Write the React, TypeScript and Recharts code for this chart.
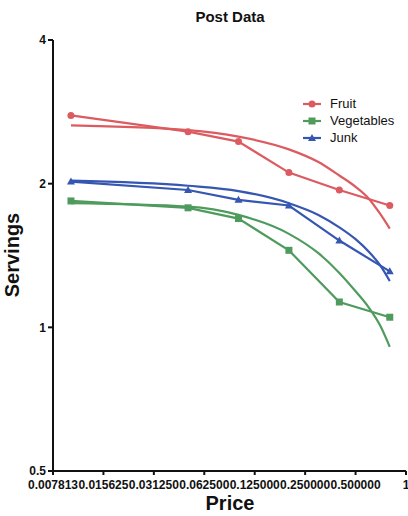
import React from 'react';
import { LineChart, Line, XAxis, YAxis } from 'recharts';

// measured points
const priceLevels = [0.01, 0.05, 0.1, 0.2, 0.4, 0.8];
const fruitServings = [2.78, 2.57, 2.45, 2.11, 1.94, 1.8];
const vegetableServings = [1.84, 1.78, 1.69, 1.45, 1.13, 1.05];
const junkServings = [2.02, 1.94, 1.85, 1.8, 1.52, 1.31];

// fitted curves
const fitPrices = [0.01, 0.05, 0.1, 0.2, 0.3, 0.4, 0.5, 0.6, 0.7, 0.8];
const fruitFit = [2.65, 2.59, 2.51, 2.36, 2.22, 2.08, 1.97, 1.86, 1.73, 1.61];
const vegetableFit = [1.82, 1.79, 1.72, 1.57, 1.43, 1.3, 1.19, 1.1, 1.01, 0.91];
const junkFit = [2.03, 1.98, 1.93, 1.82, 1.72, 1.62, 1.53, 1.44, 1.35, 1.25];

const xTicks = [0.0078125, 0.015625, 0.03125, 0.0625, 0.125, 0.25, 0.5, 1];
const yTicks = [0.5, 1, 2, 4];

const seriesNames = ['Fruit', 'Vegetables', 'Junk'];
const colors = ['#dc5b60', '#4f9b5d', '#3556b2'];

const FONT = '"Liberation Sans", Arial, sans-serif';

const toRows = (xs: number[], ys: number[]) =>
  xs.map((price, i) => ({ price, servings: ys[i] }));

const marker = (kind: number, cx: number, cy: number, color: string, key?: any) => {
  if (kind === 0) return <circle key={key} cx={cx} cy={cy} r={3.5} fill={color} stroke="none" />;
  if (kind === 1)
    return <rect key={key} x={cx - 3.5} y={cy - 3.5} width={7} height={7} fill={color} stroke="none" />;
  return (
    <polygon
      key={key}
      points={`${cx},${cy - 4} ${cx - 4},${cy + 3} ${cx + 4},${cy + 3}`}
      fill={color}
      stroke="none"
    />
  );
};

const dotFor = (kind: number) => (p: any) => marker(kind, p.cx, p.cy, colors[kind], p.index);

const formatPrice = (v: number) => (v === 1 ? '1' : v.toFixed(6));

export default function App() {
  const pointSets = [fruitServings, vegetableServings, junkServings];
  const fitSets = [fruitFit, vegetableFit, junkFit];
  const tickStyle = { fontSize: 12, fontWeight: 'bold', fill: '#111', fontFamily: FONT };

  return (
    <div
      style={{
        position: 'absolute',
        left: 0,
        top: 0,
        width: 408,
        height: 516,
        background: '#fff',
        fontFamily: FONT,
        overflow: 'hidden',
      }}
    >
      <LineChart width={408} height={516} margin={{ top: 40, right: 2, bottom: 0, left: 0 }}>
        <XAxis
          dataKey="price"
          type="number"
          scale="log"
          domain={[0.0078125, 1]}
          ticks={xTicks}
          interval={0}
          allowDataOverflow
          tickFormatter={formatPrice}
          height={45}
          tickSize={4}
          tickMargin={5}
          tick={tickStyle}
          axisLine={{ stroke: '#111', strokeWidth: 2 }}
          tickLine={{ stroke: '#111', strokeWidth: 2 }}
        />
        <YAxis
          dataKey="servings"
          type="number"
          scale="log"
          domain={[0.5, 4]}
          ticks={yTicks}
          interval={0}
          allowDataOverflow
          width={53}
          tickSize={5}
          tickMargin={2}
          tick={tickStyle}
          axisLine={{ stroke: '#111', strokeWidth: 2 }}
          tickLine={{ stroke: '#111', strokeWidth: 2 }}
        />
        {fitSets.map((ys, i) => (
          <Line
            key={`fit-${i}`}
            data={toRows(fitPrices, ys)}
            dataKey="servings"
            type="monotone"
            stroke={colors[i]}
            strokeWidth={2.2}
            dot={false}
            activeDot={false}
            isAnimationActive={false}
          />
        ))}
        {pointSets.map((ys, i) => (
          <Line
            key={`pts-${i}`}
            name={seriesNames[i]}
            data={toRows(priceLevels, ys)}
            dataKey="servings"
            type="linear"
            stroke={colors[i]}
            strokeWidth={2.2}
            dot={dotFor(i)}
            activeDot={false}
            isAnimationActive={false}
          />
        ))}
      </LineChart>

      <div
        style={{
          position: 'absolute',
          left: 130,
          width: 200,
          top: 8,
          textAlign: 'center',
          fontSize: 15,
          fontWeight: 'bold',
          color: '#111',
        }}
      >
        Post Data
      </div>

      <div
        style={{
          position: 'absolute',
          left: 130,
          width: 200,
          top: 492,
          textAlign: 'center',
          fontSize: 20,
          fontWeight: 'bold',
          color: '#111',
        }}
      >
        Price
      </div>

      <div
        style={{
          position: 'absolute',
          left: 12 - 60,
          top: 255 - 12,
          width: 120,
          height: 24,
          lineHeight: '24px',
          textAlign: 'center',
          fontSize: 20,
          fontWeight: 'bold',
          color: '#111',
          transform: 'rotate(-90deg)',
        }}
      >
        Servings
      </div>

      <div style={{ position: 'absolute', left: 302, top: 95, fontSize: 13, color: '#111' }}>
        {seriesNames.map((name, i) => (
          <div key={name} style={{ display: 'flex', alignItems: 'center', height: 17 }}>
            <svg width={20} height={10} style={{ marginRight: 8 }}>
              <line x1={1} y1={5} x2={19} y2={5} stroke={colors[i]} strokeWidth={2.2} />
              {marker(i, 10, 5, colors[i])}
            </svg>
            <span>{name}</span>
          </div>
        ))}
      </div>
    </div>
  );
}
